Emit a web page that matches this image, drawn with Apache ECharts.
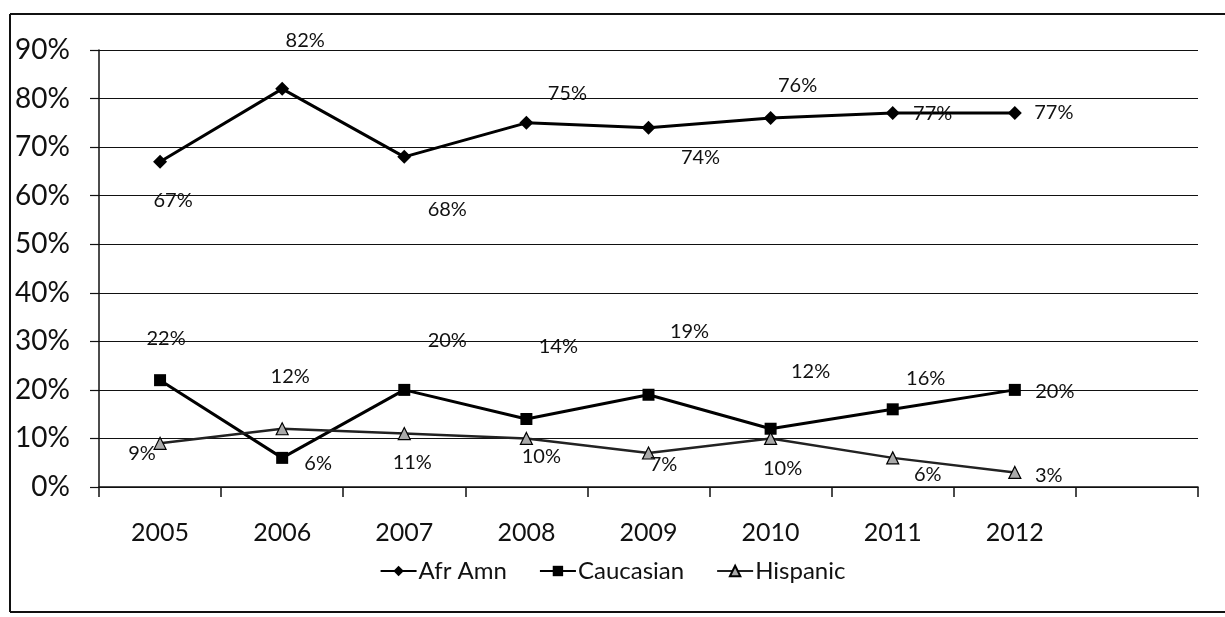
<!DOCTYPE html>
<html>
<head>
<meta charset="utf-8">
<style>
  html, body { margin: 0; padding: 0; background: #fff; }
  #chart { width: 1225px; height: 617px; }
</style>
<script src="https://cdn.jsdelivr.net/npm/echarts@6/dist/echarts.min.js"></script>
</head>
<body>
<div id="chart"></div>
<script>
// Data
const years = ['2005', '2006', '2007', '2008', '2009', '2010', '2011', '2012']
const afrAmn = [67, 82, 68, 75, 74, 76, 77, 77]
const caucasian = [22, 6, 20, 14, 19, 12, 16, 20]
const hispanic = [9, 12, 11, 10, 7, 10, 6, 3]
const yTicks = [0, 10, 20, 30, 40, 50, 60, 70, 80, 90]

// Where each data label sits relative to its point (px)
const afrLabelOffset = [[13, 39], [23, -48], [43, 53], [41, -29], [52, 30], [27, -32], [40, 0], [39, -1]]
const caucLabelOffset = [[6, -42], [36, 6], [43, -49], [32, -72], [41, -63], [40, -57], [33, -31], [40, 2]]
const hispLabelOffset = [[-18, 10], [8, -52], [8, 29], [15, 18], [15, 12], [12, 30], [35, 17], [34, 3]]

const FONT = 'Lato, "Open Sans", sans-serif'

const withLabels = (values, offsets) =>
  values.map((v, i) => ({
    value: v,
    label: { show: true, position: 'inside', offset: offsets[i] }
  }))

const labelStyle = {
  color: '#111',
  fontSize: 20,
  fontFamily: FONT,
  formatter: (p) => p.value + '%'
}

const chart = echarts.init(document.getElementById('chart'))

const option = {
  animation: false,
  backgroundColor: '#fff',
  grid: {
    left: 99,
    right: 27,
    top: 50,
    bottom: 130
  },
  legend: {
    bottom: 29,
    left: 'center',
    itemWidth: 36,
    itemHeight: 13,
    itemGap: 32,
    textStyle: { color: '#111', fontSize: 24, fontFamily: FONT, padding: [0, 0, 0, -3] },
    data: ['Afr Amn', 'Caucasian', 'Hispanic']
  },
  xAxis: {
    type: 'category',
    boundaryGap: true,
    data: years.concat(['']),
    axisLine: { lineStyle: { color: '#111', width: 1.5 } },
    axisTick: { show: true, length: 10, lineStyle: { color: '#111', width: 1.5 } },
    axisLabel: { color: '#111', fontSize: 25, fontFamily: FONT, margin: 33 },
    splitLine: { show: false }
  },
  yAxis: {
    type: 'value',
    min: yTicks[0],
    max: yTicks[yTicks.length - 1],
    interval: 10,
    axisLine: { show: true, lineStyle: { color: '#111', width: 1.5 } },
    axisTick: { show: true, length: 9, lineStyle: { color: '#111', width: 1.2 } },
    axisLabel: {
      color: '#111',
      fontSize: 28,
      fontFamily: FONT,
      margin: 29,
      formatter: '{value}%'
    },
    splitLine: { lineStyle: { color: '#111', width: 1.2 } }
  },
  series: [
    {
      name: 'Afr Amn',
      type: 'line',
      data: withLabels(afrAmn, afrLabelOffset),
      symbol: 'diamond',
      symbolSize: 14,
      lineStyle: { color: '#000', width: 3 },
      itemStyle: { color: '#000' },
      label: labelStyle
    },
    {
      name: 'Caucasian',
      type: 'line',
      data: withLabels(caucasian, caucLabelOffset),
      symbol: 'rect',
      symbolSize: 12,
      lineStyle: { color: '#000', width: 3 },
      itemStyle: { color: '#000' },
      label: labelStyle
    },
    {
      name: 'Hispanic',
      type: 'line',
      data: withLabels(hispanic, hispLabelOffset),
      symbol: 'triangle',
      symbolSize: 12,
      lineStyle: { color: '#222', width: 2.5 },
      itemStyle: { color: '#aaa', borderColor: '#000', borderWidth: 1.2 },
      label: labelStyle
    }
  ],
  graphic: [
    // outer chart frame (left, top, bottom edges visible in the scan)
    { type: 'line', shape: { x1: 10, y1: 14, x2: 10, y2: 612 }, style: { stroke: '#111', lineWidth: 2 } },
    { type: 'line', shape: { x1: 10, y1: 14, x2: 1225, y2: 14 }, style: { stroke: '#111', lineWidth: 2 } },
    { type: 'line', shape: { x1: 10, y1: 612, x2: 1225, y2: 612 }, style: { stroke: '#111', lineWidth: 2 } }
  ]
}

chart.setOption(option)
</script>
</body>
</html>
